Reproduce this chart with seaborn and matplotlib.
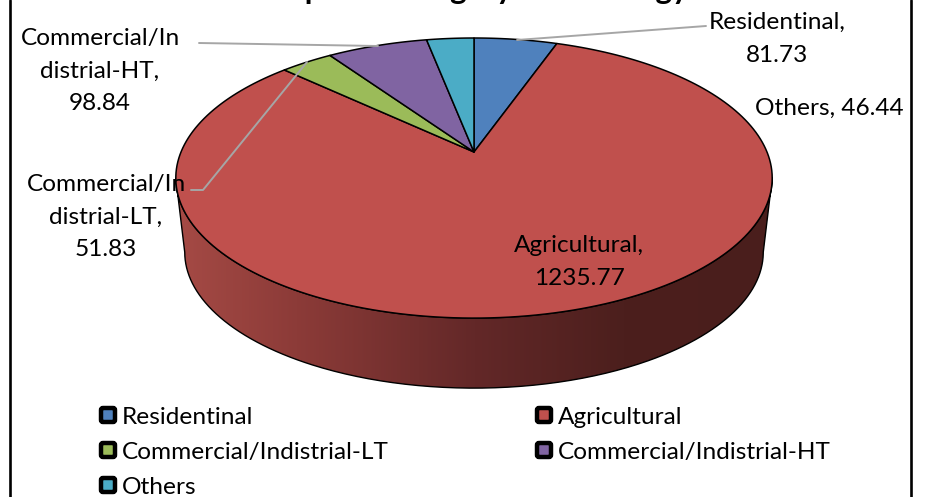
import numpy as np
import matplotlib
matplotlib.use("Agg")
import matplotlib.pyplot as plt
import seaborn as sns
from matplotlib.colors import LinearSegmentedColormap
from matplotlib.patches import FancyBboxPatch, Polygon

categories = ["Residentinal", "Agricultural", "Commercial/Indistrial-LT",
              "Commercial/Indistrial-HT", "Others"]
values = [81.73, 1235.77, 51.83, 98.84, 46.44]
colors = ["#4F81BD", "#C0504D", "#9BBB59", "#8064A2", "#4BACC6"]
title = "Consumption Category wise Energy"

sns.set_theme(style="white")
plt.rcParams["font.family"] = ["Lato", "DejaVu Sans"]

fig = plt.figure(figsize=(9.25, 4.97), dpi=100)
ax = fig.add_axes([0, 0, 1, 1])
ax.set_xlim(0, 925)
ax.set_ylim(497, 0)
ax.axis("off")

# projection of the tilted pie
CX, CY, A, B, K = 474, 152, 293, 135.2, 0.186
S, CY2 = 0.97, 227


def project(theta, r=1.0, scale=1.0, cy=CY):
    u, v = r * np.sin(theta), r * np.cos(theta)
    d = 1 + K * v
    return CX + scale * A * u / d, cy - scale * B * v / d


bounds = np.concatenate([[0], np.cumsum(values)]) / np.sum(values) * 2 * np.pi

# side wall of the large slice, between the left and right silhouettes
edge = np.arccos(-K)
side_t = np.linspace(edge, 2 * np.pi - edge, 300)
xt, yt = project(side_t)
xb, yb = project(side_t, scale=S, cy=CY2)
poly = np.column_stack([np.r_[xt, xb[::-1]], np.r_[yt, yb[::-1]]])
wall = Polygon(poly, closed=True, fc="none", ec="none", zorder=1)
ax.add_patch(wall)
cmap = LinearSegmentedColormap.from_list(
    "wall",
    [(0, "#A54A45"), (0.2, "#8C3B38"), (0.5, "#632828"), (0.75, "#4C1F1D"), (1, "#4A1E1C")],
)
im = ax.imshow(np.linspace(0, 1, 256)[None, :], cmap=cmap, aspect="auto",
               extent=(177, 773, 400, 100), zorder=1)
im.set_clip_path(wall)
ax.set_xlim(0, 925)
ax.set_ylim(497, 0)
ax.plot(np.r_[poly[:, 0], poly[0, 0]], np.r_[poly[:, 1], poly[0, 1]],
        color="black", lw=1.0, zorder=2)

# top slices
for i, c in enumerate(colors):
    t = np.linspace(bounds[i], bounds[i + 1], 200)
    x, y = project(t)
    ax.add_patch(Polygon(np.column_stack([np.r_[CX, x], np.r_[CY, y]]), closed=True,
                         fc=c, ec="black", lw=1.1, zorder=3, joinstyle="round"))

# leader lines
leader = "#A6A6A6"
ax.plot([517, 706], [40, 26], color=leader, lw=1.4, zorder=4)
ax.plot([199, 378], [43, 46], color=leader, lw=1.4, zorder=4)
ax.plot([191, 203, 307], [190, 190, 62], color=leader, lw=1.4, zorder=4)

# data labels
fs = 17.6
labels = [
    ("Residentinal,\n81.73", 777, 39),
    ("Agricultural,\n1235.77", 579, 262),
    ("Commercial/In\ndistrial-LT,\n51.83", 106, 217),
    ("Commercial/In\ndistrial-HT,\n98.84", 100, 71),
    ("Others, 46.44", 829, 108),
]
for s, x, y in labels:
    ax.text(x, y, s, ha="center", va="center", fontsize=fs, color="black",
            linespacing=1.7, zorder=5)

ax.text(440, -1, title, ha="center", va="baseline", fontsize=22.5, fontweight="bold",
        color="black", zorder=5)

# legend
leg_x = [108, 544, 108, 544, 108]
leg_y = [415, 415, 450, 450, 485]
for lx, ly, c, name in zip(leg_x, leg_y, colors, categories):
    ax.add_patch(FancyBboxPatch((lx - 6, ly - 6), 12, 12, boxstyle="round,pad=1,rounding_size=2",
                                fc=c, ec="black", lw=3.2, zorder=5))
    ax.text(lx + 14, ly + 2, name, ha="left", va="center", fontsize=fs, color="black", zorder=5)

# frame
ax.plot([10, 10], [0, 497], color="black", lw=1.9, zorder=6)
ax.plot([910.5, 910.5], [0, 497], color="black", lw=1.9, zorder=6)

fig.savefig("out.png", dpi=100)
